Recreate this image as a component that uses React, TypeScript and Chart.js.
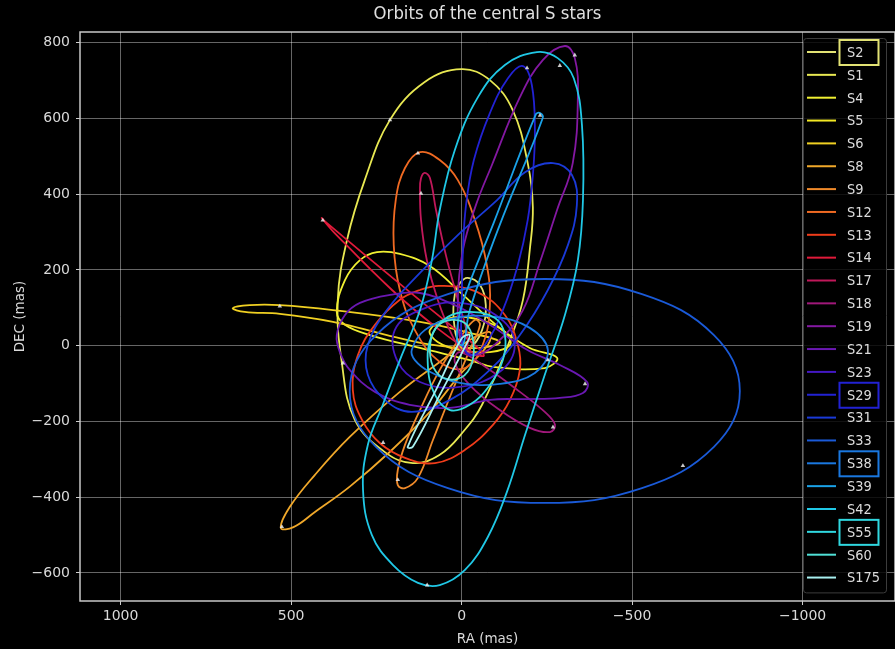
import React, { useEffect, useRef } from "react";
import { Chart, registerables } from "chart.js";

Chart.register(...registerables);

const FONT = '"DejaVu Sans", "Liberation Sans", sans-serif';
const TITLE = "Orbits of the central S stars";

const STAR_NAMES = ["S2", "S1", "S4", "S5", "S6", "S8", "S9", "S12", "S13", "S14", "S17", "S18", "S19", "S21", "S23", "S29", "S31", "S33", "S38", "S39", "S42", "S55", "S60", "S175"];
const STAR_COLORS = ["#e2e274", "#e8e852", "#f0f032", "#f2e824", "#f0d022", "#f0a82a", "#f08a2a", "#f06a22", "#f03c1a", "#e01a3a", "#c0185a", "#a0187a", "#8418a2", "#6a18b2", "#4418c4", "#2222d4", "#1a3ad8", "#1a5ad8", "#1a78e0", "#1aa2e8", "#20c8e6", "#30d8e0", "#50e0d6", "#a8f0f0"];
const HIGHLIGHTED = ["S2", "S29", "S38", "S55"];

// Projected orbit tracks, [RA, DEC] in mas, listed in order along each orbit
const orbitS2 = [[-18, 179], [-54, 160], [-71, 107], [-60, 41], [-24, -6], [5, 2], [23, 68], [20, 134], [5, 165]];
const orbitS1 = [[0, 730], [-83, 701], [-150, 622], [-194, 482], [-209, 366], [-200, 253], [-180, 121], [-142, 15], [-60, -156], [-4, -228], [64, -288], [143, -310], [225, -281], [313, -196], [351, -46], [363, 121], [336, 279], [284, 437], [210, 596], [108, 696]];
const orbitS4 = [[366, 89], [342, 173], [298, 226], [248, 247], [181, 242], [93, 210], [-4, 134], [-112, 47], [-200, -6], [-280, -32], [-244, -59], [-92, -56], [-24, -38], [122, -6], [269, 28], [342, 55]];
const orbitS5 = [[93, 41], [34, 73], [-54, 68], [-127, 36], [-142, 2], [-83, -17], [5, -11], [70, 10]];
const orbitS6 = [[671, 99], [621, 107], [533, 107], [377, 94], [122, 63], [-24, 34], [-112, 10], [-54, -6], [84, 2], [219, 28], [377, 63], [533, 84], [636, 89]];
const orbitS8 = [[530, -481], [504, -426], [430, -341], [328, -241], [181, -122], [64, -43], [-24, 15], [-83, 36], [-77, 2], [5, -77], [93, -175], [210, -280], [328, -372], [430, -439], [493, -479]];
const orbitS9 = [[187, -368], [187, -328], [166, -262], [122, -170], [64, -64], [-1, 28], [-39, 68], [-54, 55], [-24, -11], [26, -117], [84, -249], [128, -349], [166, -376]];
const orbitS12 = [[122, 511], [64, 490], [11, 437], [-39, 332], [-74, 213], [-83, 107], [-62, 2], [-10, -59], [64, -43], [137, 41], [181, 147], [199, 266], [193, 385], [166, 469]];
const orbitS13 = [[64, 158], [-45, 142], [-127, 81], [-165, 2], [-171, -64], [-142, -143], [-92, -209], [-10, -275], [78, -310], [166, -296], [240, -257], [292, -196], [319, -117], [304, -25], [254, 55], [181, 121], [122, 147]];
const orbitS14 = [[410, 337], [398, 326], [181, 163], [34, 55], [-48, -6], [-65, -27], [-30, -17], [64, 41], [204, 147], [375, 300]];
const orbitS17 = [[108, 456], [93, 443], [75, 358], [46, 239], [11, 121], [-18, 20], [-7, -17], [28, 28], [70, 121], [102, 226], [119, 332], [122, 411], [119, 442]];
const orbitS18 = [[5, -17], [-83, -64], [-171, -122], [-244, -175], [-274, -209], [-259, -228], [-200, -217], [-112, -170], [-24, -104], [20, -43]];
const orbitS19 = [[-303, 791], [-332, 759], [-341, 656], [-326, 482], [-280, 358], [-230, 221], [-180, 94], [-112, 15], [-42, -25], [-1, 2], [11, 121], [-4, 253], [-42, 371], [-89, 477], [-171, 656], [-238, 754]];
const orbitS21 = [[366, 28], [342, 81], [298, 113], [210, 134], [122, 139], [20, 107], [-83, 55], [-192, -11], [-288, -51], [-368, -96], [-356, -125], [-288, -138], [-192, -141], [-83, -143], [34, -164], [152, -156], [254, -122], [328, -64], [357, -17]];
const orbitS23 = [[196, 41], [122, 94], [5, 113], [-112, 73], [-156, 2], [-112, -69], [5, -109], [122, -96], [187, -43]];
const orbitS29 = [[-180, 738], [-206, 688], [-215, 569], [-209, 450], [-194, 332], [-165, 213], [-121, 94], [-68, 2], [-24, -25], [-1, 15], [-1, 121], [-4, 253], [-13, 371], [-36, 490], [-83, 614], [-136, 706]];
const orbitS31 = [[-268, 482], [-324, 450], [-338, 371], [-312, 266], [-253, 147], [-171, 28], [-83, -64], [34, -143], [146, -175], [225, -143], [275, -77], [275, 2], [219, 94], [122, 192], [5, 297], [-104, 384], [-186, 458]];
const orbitS33 = [[-816, -120], [-740, 28], [-529, 136], [-244, 176], [40, 136], [251, 28], [328, -120], [251, -267], [40, -376], [-244, -415], [-529, -376], [-740, -267]];
const orbitS38 = [[146, -11], [108, 41], [20, 73], [-98, 76], [-200, 47], [-253, -11], [-215, -72], [-112, -101], [5, -98], [93, -69], [137, -38]];
const orbitS39 = [[-230, 614], [-238, 601], [-112, 319], [-24, 94], [-4, 2], [14, 15], [-1, 107], [-95, 326], [-218, 611]];
const orbitS42 = [[-221, 775], [-282, 759], [-329, 706], [-353, 582], [-356, 385], [-341, 226], [-303, 81], [-244, -77], [-186, -236], [-133, -386], [-77, -505], [-10, -592], [64, -632], [128, -626], [201, -579], [263, -500], [289, -381], [275, -262], [231, -156], [181, -38], [122, 94], [87, 226], [64, 358], [20, 516], [-48, 656], [-127, 741]];
const orbitS55 = [[-24, 89], [-98, 73], [-127, 28], [-121, -38], [-83, -104], [-24, -156], [34, -170], [78, -130], [99, -51], [87, 28], [40, 76]];
const orbitS60 = [[28, 68], [-18, 52], [-36, -11], [-18, -69], [28, -90], [75, -69], [93, -11], [75, 47]];
const orbitS175 = [[158, -267], [143, -267], [64, -130], [-13, 2], [-24, 28], [-1, 20], [78, -122]];

const ORBITS = [orbitS2, orbitS1, orbitS4, orbitS5, orbitS6, orbitS8, orbitS9, orbitS12, orbitS13, orbitS14, orbitS17, orbitS18, orbitS19, orbitS21, orbitS23, orbitS29, orbitS31, orbitS33, orbitS38, orbitS39, orbitS42, orbitS55, orbitS60, orbitS175];

// Direction-of-motion arrow heads, [RA, DEC] in mas
const DIRECTION_MARKS = [[210, 596], [533, 104], [527, -478], [187, -354], [128, 508], [407, 331], [119, 402], [-268, -215], [-332, 767], [-362, -101], [348, -46], [-192, 733], [-649, -317], [-253, -38], [-288, 739], [101, -632], [-230, 608], [230, -256]];

const RA_TICKS = [1000, 500, 0, -500, -1000];
const DEC_TICKS = [800, 600, 400, 200, 0, -200, -400, -600];
const RA_LIMITS = [-1271, 1119];
const DEC_LIMITS = [-674, 828];

const fmt = (v: number) => String(v).replace("-", "\u2212");

function closedTrack(pts: number[][]) {
  // wrap the track so every drawn segment has neighbours on both sides
  const n = pts.length;
  return [pts[n - 1], ...pts, pts[0], pts[1]].map(([x, y]) => ({ x, y }));
}

function stretchedText(ctx: CanvasRenderingContext2D, text: string, x: number, y: number, sy: number) {
  ctx.save();
  ctx.translate(x, y);
  ctx.scale(1, sy);
  ctx.fillText(text, 0, 0);
  ctx.restore();
}

const framePlugin = {
  id: "frame",
  afterDatasetsDraw(chart: any) {
    const { ctx, chartArea } = chart;
    ctx.save();
    ctx.strokeStyle = "#c8c8c8";
    ctx.lineWidth = 1.5;
    ctx.strokeRect(chartArea.left, chartArea.top, chartArea.right - chartArea.left, chartArea.bottom - chartArea.top);
    ctx.restore();
  },
};

const legendPlugin = {
  id: "orbitLegend",
  afterDraw(chart: any) {
    const { ctx, chartArea } = chart;
    const boxRight = chart.width - 9;
    const boxLeft = boxRight - 83;
    const boxTop = chartArea.top + 6;
    const rowH = 22.85;
    const boxH = rowH * STAR_NAMES.length + 6;
    ctx.save();
    ctx.fillStyle = "rgba(0,0,0,0.82)";
    ctx.strokeStyle = "#3c3c3c";
    ctx.lineWidth = 1;
    ctx.beginPath();
    (ctx as any).roundRect(boxLeft + 0.5, boxTop + 0.5, boxRight - boxLeft, boxH, 3);
    ctx.fill();
    ctx.stroke();
    ctx.font = `13px ${FONT}`;
    ctx.textBaseline = "middle";
    ctx.textAlign = "left";
    STAR_NAMES.forEach((name, i) => {
      const y = boxTop + 14 + i * rowH;
      ctx.strokeStyle = STAR_COLORS[i];
      ctx.lineWidth = 2;
      ctx.beginPath();
      ctx.moveTo(boxLeft + 4, y);
      ctx.lineTo(boxLeft + 33, y);
      ctx.stroke();
      ctx.fillStyle = "#dcdcdc";
      stretchedText(ctx, name, boxLeft + 44, y + 1, 1.14);
      if (HIGHLIGHTED.includes(name)) {
        ctx.strokeStyle = STAR_COLORS[i];
        ctx.lineWidth = 2;
        ctx.strokeRect(boxLeft + 36.5, y - 12, 39, 25);
      }
    });
    ctx.restore();

    ctx.save();
    ctx.font = `16.5px ${FONT}`;
    ctx.fillStyle = "#e0e0e0";
    ctx.textAlign = "center";
    ctx.textBaseline = "middle";
    stretchedText(ctx, TITLE, (chartArea.left + chartArea.right) / 2, 15, 1.05);
    ctx.restore();
  },
};

export default function App() {
  const canvasRef = useRef<HTMLCanvasElement>(null);

  useEffect(() => {
    document.body.style.margin = "0";
    document.body.style.background = "#000";

    const orbitSets = STAR_NAMES.map((name, i) => {
      const data = closedTrack(ORBITS[i]);
      const lastSeg = data.length - 2;
      return {
        type: "line" as const,
        label: name,
        data,
        borderColor: STAR_COLORS[i],
        backgroundColor: STAR_COLORS[i],
        borderWidth: 1.8,
        pointRadius: 0,
        pointHoverRadius: 0,
        tension: 0.4,
        fill: false,
        order: STAR_NAMES.length - i,
        segment: {
          borderColor: (c: any) => (c.p0DataIndex === 0 || c.p0DataIndex === lastSeg ? "rgba(0,0,0,0)" : undefined),
        },
      };
    });

    const markerSet = {
      type: "line" as const,
      label: "direction",
      data: DIRECTION_MARKS.map(([x, y]) => ({ x, y })),
      showLine: false,
      pointStyle: "triangle" as const,
      pointRadius: 2.6,
      pointHoverRadius: 0,
      pointBorderWidth: 0,
      pointBackgroundColor: "rgba(235,235,235,0.85)",
      borderColor: "rgba(0,0,0,0)",
      order: 0,
    };

    const gridStyle = { color: "rgba(255,255,255,0.4)", lineWidth: 1, tickLength: 4, tickColor: "#cfcfcf", tickWidth: 1 };
    const tickFont = { family: FONT, size: 14 };

    const chart = new Chart(canvasRef.current!, {
      type: "line",
      data: { datasets: [...orbitSets, markerSet] as any },
      options: {
        animation: false,
        responsive: false,
        maintainAspectRatio: false,
        devicePixelRatio: 1,
        layout: { autoPadding: false, padding: { top: 32, left: 0, right: 0, bottom: 0 } },
        plugins: { legend: { display: false }, title: { display: false }, tooltip: { enabled: false } },
        events: [],
        scales: {
          x: {
            type: "linear",
            reverse: true,
            min: RA_LIMITS[0],
            max: RA_LIMITS[1],
            afterBuildTicks: (s: any) => {
              s.ticks = RA_TICKS.map((v) => ({ value: v }));
            },
            afterFit: (s: any) => {
              s.height = 48;
              s.paddingLeft = 0;
              s.paddingRight = 0;
            },
            grid: gridStyle,
            border: { display: false },
            ticks: { color: "#d9d9d9", font: tickFont, padding: 3, maxRotation: 0, autoSkip: false, callback: (v: any) => fmt(v) },
            title: { display: true, text: "RA (mas)", color: "#d9d9d9", font: { family: FONT, size: 13.5 }, padding: { top: 0, bottom: 1 } },
          },
          y: {
            type: "linear",
            min: DEC_LIMITS[0],
            max: DEC_LIMITS[1],
            afterBuildTicks: (s: any) => {
              s.ticks = DEC_TICKS.map((v) => ({ value: v }));
            },
            afterFit: (s: any) => {
              s.width = 80;
              s.paddingTop = 0;
              s.paddingBottom = 0;
            },
            grid: gridStyle,
            border: { display: false },
            ticks: { color: "#d9d9d9", font: tickFont, padding: 6, autoSkip: false, callback: (v: any) => fmt(v) },
            title: { display: true, text: "DEC (mas)", color: "#d9d9d9", font: { family: FONT, size: 13.5 }, padding: { top: 12, bottom: 0 } },
          },
        },
      },
      plugins: [framePlugin, legendPlugin],
    } as any);

    return () => chart.destroy();
  }, []);

  return (
    <div style={{ position: "fixed", left: 0, top: 0, width: 895, height: 649, background: "#000", overflow: "hidden" }}>
      <canvas ref={canvasRef} width={895} height={649} style={{ display: "block" }} />
    </div>
  );
}
